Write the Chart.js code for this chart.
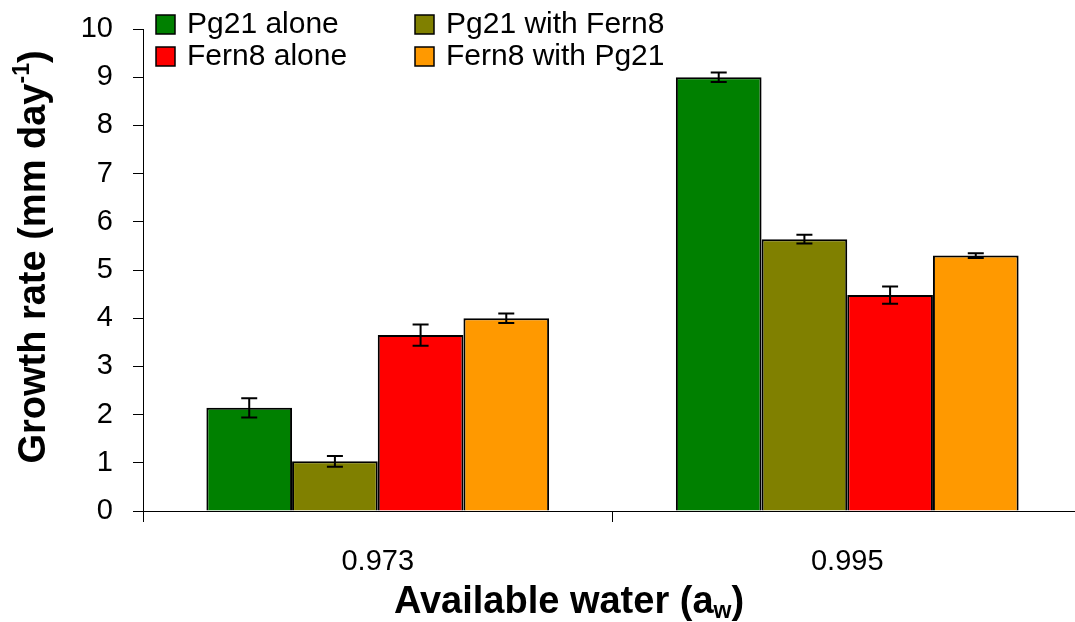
<!DOCTYPE html>
<html>
<head>
<meta charset="utf-8">
<script src="https://cdn.jsdelivr.net/npm/chart.js@4.4.0/dist/chart.umd.min.js"></script>
<style>
  html, body { margin: 0; padding: 0; background: #fff; overflow: hidden; }
  #wrap { width: 1075px; height: 622px; overflow: hidden; }
</style>
</head>
<body>
<div id="wrap"><canvas id="growthChart" width="1082" height="622"></canvas></div>
<script>
const categories = ['0.973', '0.995'];
const seriesNames = ['Pg21 alone', 'Pg21 with Fern8', 'Fern8 alone', 'Fern8 with Pg21'];
const pg21Alone = [2.14, 9.0];
const pg21WithFern8 = [1.03, 5.64];
const fern8Alone = [3.65, 4.48];
const fern8WithPg21 = [4.0, 5.3];
const pg21AloneErr = [0.2, 0.1];
const pg21WithFern8Err = [0.11, 0.09];
const fern8AloneErr = [0.22, 0.18];
const fern8WithPg21Err = [0.1, 0.05];
const yTicks = [0, 1, 2, 3, 4, 5, 6, 7, 8, 9, 10];

const colors = ['#008000', '#808000', '#ff0000', '#ff9900'];
const FONT = '"Liberation Sans", Arial, sans-serif';

// error bars drawn from the err arrays through the y scale
const errorBars = {
    id: 'errorBars',
    afterDatasetsDraw(chart) {
        const ctx = chart.ctx;
        const y = chart.scales.y;
        ctx.save();
        ctx.strokeStyle = '#000';
        ctx.lineWidth = 2;
        chart.data.datasets.forEach((ds, i) => {
            const meta = chart.getDatasetMeta(i);
            meta.data.forEach((bar, j) => {
                const v = ds.data[j];
                const e = ds.err[j];
                const top = y.getPixelForValue(v + e);
                const bot = y.getPixelForValue(v - e);
                ctx.beginPath();
                ctx.moveTo(bar.x, top); ctx.lineTo(bar.x, bot);
                ctx.moveTo(bar.x - 8, top); ctx.lineTo(bar.x + 8, top);
                ctx.moveTo(bar.x - 8, bot); ctx.lineTo(bar.x + 8, bot);
                ctx.stroke();
            });
        });
        ctx.restore();
    }
};

// legend in two columns plus the axis titles with sub/superscripts
const annotations = {
    id: 'annotations',
    afterDraw(chart) {
        const ctx = chart.ctx;
        ctx.save();
        const cols = [156, 415];
        const rows = [24, 56];
        ctx.font = '30px ' + FONT;
        ctx.textBaseline = 'middle';
        ctx.textAlign = 'left';
        chart.data.datasets.forEach((ds, i) => {
            const bx = cols[i % 2];
            const by = rows[Math.floor(i / 2)];
            ctx.fillStyle = ds.backgroundColor;
            ctx.fillRect(bx, by - 9, 19, 19);
            ctx.strokeStyle = '#000';
            ctx.lineWidth = 1.5;
            ctx.strokeRect(bx, by - 9, 19, 19);
            ctx.fillStyle = '#000';
            ctx.fillText(ds.label, bx + 31, by + 1);
        });

        // x title
        const big = 'bold 38px ' + FONT;
        const small = 'bold 23px ' + FONT;
        ctx.textBaseline = 'alphabetic';
        ctx.font = big;
        const p1 = 'Available water (a';
        const w1 = ctx.measureText(p1).width;
        ctx.font = small;
        const w2 = ctx.measureText('w').width;
        ctx.font = big;
        const w3 = ctx.measureText(')').width;
        let x = 569 - (w1 + w2 + w3) / 2;
        const base = 613;
        ctx.fillText(p1, x, base);
        ctx.font = small;
        ctx.fillText('w', x + w1, base + 5);
        ctx.font = big;
        ctx.fillText(')', x + w1 + w2, base);

        // y title
        ctx.translate(45, 257);
        ctx.rotate(-Math.PI / 2);
        const q1 = 'Growth rate (mm day';
        const q1w = ctx.measureText(q1).width;
        ctx.font = small;
        const q2w = ctx.measureText('-1').width;
        ctx.font = big;
        const q3w = ctx.measureText(')').width;
        x = -(q1w + q2w + q3w) / 2;
        ctx.fillText(q1, x, 0);
        ctx.font = small;
        ctx.fillText('-1', x + q1w, -16);
        ctx.font = big;
        ctx.fillText(')', x + q1w + q2w, 0);
        ctx.restore();
    }
};

const makeSet = (i, data, err) => ({
    label: seriesNames[i],
    data: data,
    err: err,
    backgroundColor: colors[i],
    borderColor: '#000',
    borderWidth: 2,
    borderSkipped: 'bottom',
    categoryPercentage: 0.73,
    barPercentage: 1.0
});

new Chart(document.getElementById('growthChart'), {
    type: 'bar',
    data: {
        labels: categories,
        datasets: [
            makeSet(0, pg21Alone, pg21AloneErr),
            makeSet(1, pg21WithFern8, pg21WithFern8Err),
            makeSet(2, fern8Alone, fern8AloneErr),
            makeSet(3, fern8WithPg21, fern8WithPg21Err)
        ]
    },
    options: {
        responsive: false,
        animation: false,
        layout: { padding: { top: 29, right: 0, left: 0, bottom: 0 } },
        plugins: { legend: { display: false }, tooltip: { enabled: false } },
        scales: {
            x: {
                offset: true,
                grid: { offset: true, drawOnChartArea: false, color: '#000', tickLength: 11 },
                border: { color: '#000', width: 1 },
                ticks: { color: '#000', font: { family: FONT, size: 29 }, padding: 23 },
                afterFit: s => { s.height = 111; }
            },
            y: {
                min: 0,
                max: 10,
                afterBuildTicks: s => { s.ticks = yTicks.map(v => ({ value: v })); },
                grid: { drawOnChartArea: false, color: '#000', tickLength: 10 },
                border: { color: '#000', width: 1 },
                ticks: { color: '#000', font: { family: FONT, size: 29 }, padding: 20 },
                afterFit: s => { s.width = 143; s.paddingTop = 0; s.paddingBottom = 0; }
            }
        }
    },
    plugins: [errorBars, annotations]
});
</script>
</body>
</html>
